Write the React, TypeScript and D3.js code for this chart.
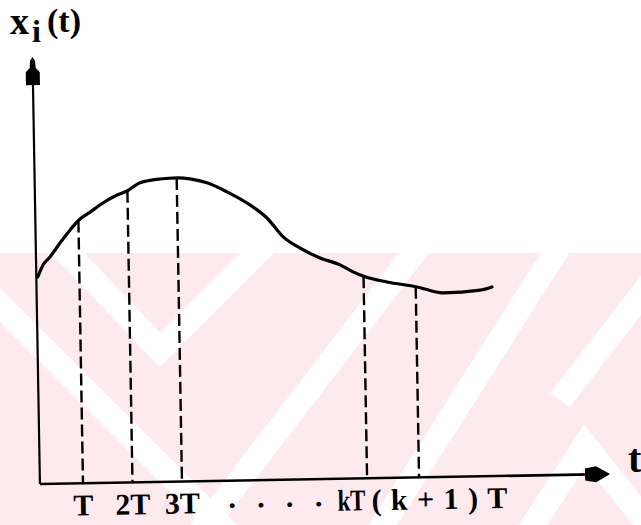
import React from "react";
import * as d3 from "d3";

// Response curve x_i(t), sampled along t (in units of the period T)
const curveT = [0.16, 0.27, 0.41, 0.62, 0.83, 1.01, 1.24, 1.5, 1.79, 1.99, 2.26, 2.66, 3.03, 3.27, 3.61, 4.01, 4.41, 4.81, 5.13, 5.47, 5.87, 6.27, 6.53, 6.77, 7.21, 7.82, 8.34, 9.09, 9.33];
const curveX = [4.86, 5.14, 5.32, 5.65, 5.95, 6.18, 6.36, 6.57, 6.75, 6.84, 7.03, 7.11, 7.13, 7.1, 7.0, 6.78, 6.51, 6.15, 5.7, 5.43, 5.19, 5.02, 4.85, 4.73, 4.6, 4.47, 4.32, 4.37, 4.44];

// Sampling instants and their labels
const sampleT = [1, 2, 3, 6.74, 7.79];
const sampleLabels = ["T", "2T", "3T", "kT", "(k+1)T"];

// Axis extents (t for the vertical axis position and the arrow tip, value at the top)
const axisT = 0.13;
const axisEndT = 11.65;
const axisTopX = 10;

// Background watermark bands (page coordinates)
const bands: [number, number][][] = [
  [[-40, 265], [260, 565]],
  [[60, 245], [160, 350], [265, 245]],
  [[190, 545], [420, 245]],
  [[370, 545], [560, 245]],
  [[520, 545], [585, 445], [660, 540]],
  [[560, 400], [680, 245]],
];

const W = 641;
const H = 525;
const FONT = "'Liberation Serif', 'Times New Roman', serif";

export default function App() {
  const x = d3.scaleLinear().domain([0, 12]).range([33.5, 627.5]);
  const y = d3.scaleLinear().domain([0, 10]).range([484, 58]);
  const valueAt = d3.scaleLinear().domain(curveT).range(curveX);

  const pts = curveT.map((t, i) => ({ t, v: curveX[i] }));
  const path = d3
    .line<{ t: number; v: number }>()
    .x((d) => x(d.t))
    .y((d) => y(d.v))
    .curve(d3.curveMonotoneX)(pts) as string;

  const x0 = x(axisT);
  const y0 = y(0);
  const xEnd = x(axisEndT);
  const yTop = y(axisTopX);

  const bandLine = d3.line();

  return (
    <svg
      width={W}
      height={H}
      style={{ position: "absolute", left: 0, top: 0, background: "#fff" }}
      fontFamily={FONT}
      fontWeight="bold"
    >
      <defs>
        <clipPath id="wm">
          <rect x={0} y={253} width={W} height={H - 253} />
        </clipPath>
      </defs>
      <g clipPath="url(#wm)">
        <rect x={0} y={253} width={W} height={H - 253} fill="#fdeaee" />
        {bands.map((b, i) => (
          <path key={i} d={bandLine(b) as string} fill="none" stroke="#fff" strokeWidth={24} strokeLinejoin="miter" />
        ))}
      </g>

      {/* title */}
      <text x={10} y={34} fontSize={38} fill="#000">x</text>
      <text x={32} y={42} fontSize={32} fill="#000">i</text>
      <text x={47} y={32} fontSize={34} fill="#000">(t)</text>
      <text x={628} y={472} fontSize={40} fill="#000">t</text>

      <g transform={`rotate(-1 ${x0} ${y0})`}>
        {/* axes */}
        <line x1={x0} y1={y0} x2={x0} y2={yTop + 8} stroke="#000" strokeWidth={2.2} />
        <line x1={x0} y1={y0} x2={xEnd - 18} y2={y0} stroke="#000" strokeWidth={2.6} />
        <path
          d={`M${x0},${yTop - 1} L${x0 - 2.5},${yTop + 3} L${x0 - 3},${yTop + 10} L${x0 - 7},${yTop + 14} L${x0 - 7},${yTop + 27} L${x0 + 7},${yTop + 27} L${x0 + 7},${yTop + 14} L${x0 + 3},${yTop + 10} L${x0 + 2.5},${yTop + 3} Z`}
          fill="#000"
        />
        <path
          d={`M${xEnd},${y0} L${xEnd - 14},${y0 - 8} L${xEnd - 25},${y0 - 6} L${xEnd - 25},${y0 + 6} L${xEnd - 14},${y0 + 8} Z`}
          fill="#000"
        />

        {/* sampling instants */}
        {sampleT.map((t) => (
          <line
            key={t}
            x1={x(t)}
            x2={x(t)}
            y1={y(valueAt(t))}
            y2={y0}
            stroke="#000"
            strokeWidth={2.4}
            strokeDasharray="12 5"
          />
        ))}

        {/* curve */}
        <path d={path} fill="none" stroke="#000" strokeWidth={3.2} strokeLinejoin="round" strokeLinecap="round" />

        {/* tick labels */}
        {sampleLabels.slice(0, 3).map((lab, i) => (
          <text key={lab} x={x(sampleT[i])} y={y0 + 32} fontSize={30} textAnchor="middle" fill="#000">
            {lab}
          </text>
        ))}
        <text x={x(sampleT[2]) + 46} y={y0 + 27} fontSize={30} textLength={94} lengthAdjust="spacing" fill="#000">
          . . . .
        </text>
        <text x={x(sampleT[3]) - 30} y={y0 + 32} fontSize={30} textLength={28} lengthAdjust="spacingAndGlyphs" fill="#000">
          {sampleLabels[3]}
        </text>
        <text x={x(sampleT[3]) + 4} y={y0 + 32} fontSize={30} textLength={136} lengthAdjust="spacing" fill="#000">
          {sampleLabels[4]}
        </text>
      </g>
    </svg>
  );
}
